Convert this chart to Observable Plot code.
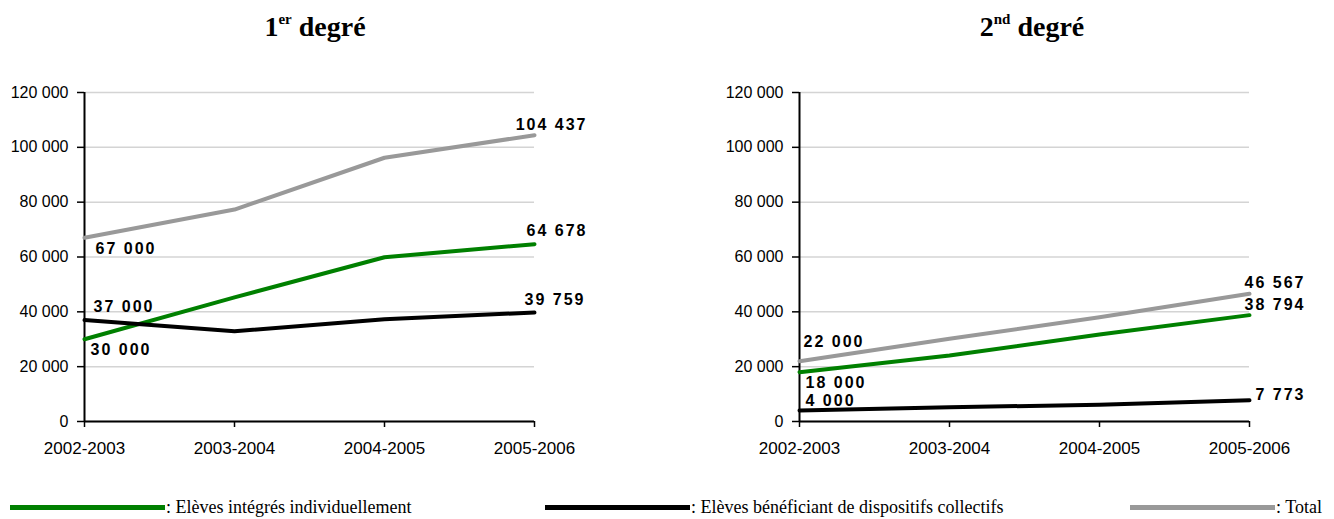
<!DOCTYPE html>
<html><head><meta charset="utf-8">
<script src="https://cdn.jsdelivr.net/npm/d3@7"></script>
<script src="https://cdn.jsdelivr.net/npm/@observablehq/plot@0.6"></script>
<style>
body{margin:0;background:#fff;}
#wrap{position:relative;width:1334px;height:519px;overflow:hidden;}
.title{position:absolute;top:13px;font-family:"Liberation Serif","Times New Roman",serif;font-weight:bold;font-size:28px;transform:translateX(-50%);white-space:nowrap;color:#000;line-height:1;}
.title sup{font-size:15px;line-height:0;vertical-align:12px;}
.chart{position:absolute;top:60px;}
.leg{position:absolute;font-family:"Liberation Serif","Times New Roman",serif;font-size:18px;color:#000;white-space:nowrap;line-height:1;}
.legline{position:absolute;height:5px;}
</style>
</head><body>
<div id="wrap"></div>
<script>
// ---- data ----
const years = ["2002-2003", "2003-2004", "2004-2005", "2005-2006"];
const yTicks = [0, 20000, 40000, 60000, 80000, 100000, 120000];
const seriesNames = ["Elèves intégrés individuellement", "Elèves bénéficiant de dispositifs collectifs", "Total"];
// 1er degré
const d1_indiv = [30000, 45300, 59900, 64678];
const d1_coll  = [37000, 32900, 37300, 39759];
const d1_total = [67000, 77300, 96200, 104437];
// 2nd degré
const d2_indiv = [18000, 24100, 31700, 38794];
const d2_coll  = [4000, 5200, 6100, 7773];
const d2_total = [22000, 30200, 38000, 46567];

// ---- styles ----
const colors = {"Elèves intégrés individuellement": "#008000", "Elèves bénéficiant de dispositifs collectifs": "#000000", "Total": "#999999"};
const fmt = d3.formatLocale({thousands: " ", grouping: [3], decimal: ","}).format(",d");

function build(indiv, coll, total) {
  const rows = [];
  const sets = [indiv, coll, total];
  seriesNames.forEach((s, i) => years.forEach((y, j) => rows.push({series: s, year: y, value: sets[i][j], idx: j})));
  return rows;
}

function makeChart(rows, offsets, marginLeft, marginRight) {
  const W = 667, H = 410;
  const first = rows.filter(d => d.idx === 0);
  const last = rows.filter(d => d.idx === years.length - 1);
  const svg = Plot.plot({
    width: W, height: H,
    marginLeft, marginRight, marginTop: 32, marginBottom: 49,
    style: {fontFamily: "'Liberation Sans', Arial, sans-serif", fontSize: "16px", color: "#000", background: "#fff"},
    x: {type: "point", domain: years, padding: 0},
    y: {domain: [0, 120000]},
    marks: [
      Plot.gridY(yTicks, {stroke: "#d4d4d4", strokeOpacity: 1, strokeWidth: 1.5}),
      Plot.axisY(yTicks, {tickFormat: fmt, tickSize: 7, tickPadding: 9, strokeWidth: 1.5, label: null, fontSize: 16}),
      Plot.axisX({tickSize: 6, tickPadding: 14, strokeWidth: 1.5, label: null, fontSize: 17}),
      Plot.ruleY([0], {stroke: "#000", strokeWidth: 2}),
      Plot.ruleX([years[0]], {stroke: "#000", strokeWidth: 2}),
      Plot.line(rows, {x: "year", y: "value", z: "series", stroke: d => colors[d.series], strokeWidth: 4, strokeLinecap: "round", strokeLinejoin: "round"}),
      ...first.map(d => Plot.text([d], {x: "year", y: "value", text: d => fmt(d.value), textAnchor: "start", dx: offsets[d.series][0][0], dy: offsets[d.series][0][1], fontWeight: "bold", fontSize: 16, fill: "#000"})),
      ...last.map(d => Plot.text([d], {x: "year", y: "value", text: d => fmt(d.value), textAnchor: "end", dx: offsets[d.series][1][0], dy: offsets[d.series][1][1], fontWeight: "bold", fontSize: 16, fill: "#000"}))
    ]
  });
  d3.select(svg).selectAll("g[aria-label=text] text").attr("letter-spacing", "2px");
  return svg;
}

const wrap = document.getElementById("wrap");

const off1 = {
  "Elèves intégrés individuellement": [[6, 11], [53, -13]],
  "Elèves bénéficiant de dispositifs collectifs": [[9, -13], [51, -13]],
  "Total": [[11, 11], [53, -10]]
};
const off2 = {
  "Elèves intégrés individuellement": [[6, 11], [56, -10]],
  "Elèves bénéficiant de dispositifs collectifs": [[6, -10], [56, -5]],
  "Total": [[4, -19], [56, -11]]
};

const c1 = makeChart(build(d1_indiv, d1_coll, d1_total), off1, 84, 133);
c1.classList.add("chart"); c1.style.left = "0px";
wrap.appendChild(c1);
const c2 = makeChart(build(d2_indiv, d2_coll, d2_total), off2, 132, 85);
c2.classList.add("chart"); c2.style.left = "667px";
wrap.appendChild(c2);

function addTitle(html, cx) {
  const t = document.createElement("div");
  t.className = "title"; t.innerHTML = html; t.style.left = cx + "px";
  wrap.appendChild(t);
}
addTitle("1<sup>er</sup> degré", 315);
addTitle("2<sup>nd</sup> degré", 1032);

const legendPos = [[10, 155], [545, 145], [1130, 145]];
seriesNames.forEach((s, i) => {
  const l = document.createElement("div");
  l.className = "legline";
  l.style.left = legendPos[i][0] + "px"; l.style.width = legendPos[i][1] + "px";
  l.style.top = "505px"; l.style.background = colors[s];
  wrap.appendChild(l);
  const t = document.createElement("div");
  t.className = "leg"; t.textContent = ": " + s;
  t.style.left = (legendPos[i][0] + legendPos[i][1] + 1) + "px"; t.style.top = "498px";
  wrap.appendChild(t);
});
</script>
</body></html>
